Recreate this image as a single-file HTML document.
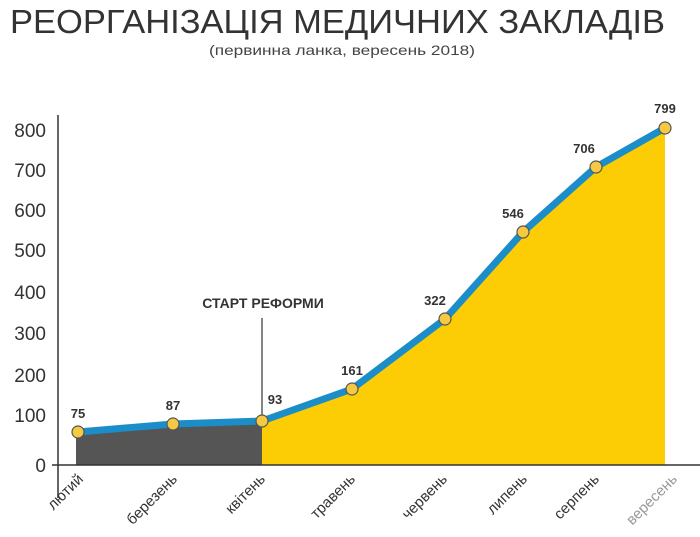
<!DOCTYPE html>
<html><head><meta charset="utf-8"><style>body{margin:0;background:#fff}svg{display:block}</style></head><body>
<svg width="700" height="537" viewBox="0 0 700 537" xmlns="http://www.w3.org/2000/svg" font-family="Liberation Sans, DejaVu Sans, sans-serif">
<text x="10" y="33" font-size="33" fill="#333" textLength="655" lengthAdjust="spacingAndGlyphs">РЕОРГАНІЗАЦІЯ МЕДИЧНИХ ЗАКЛАДІВ</text>
<text x="209" y="55" font-size="14" fill="#444" textLength="266" lengthAdjust="spacingAndGlyphs">(первинна ланка, вересень 2018)</text>
<g font-size="19" fill="#333" text-anchor="end">
<text x="46" y="137">800</text><text x="46" y="177">700</text><text x="46" y="217">600</text><text x="46" y="257">500</text><text x="46" y="299">400</text><text x="46" y="340">300</text><text x="46" y="382">200</text><text x="46" y="422">100</text><text x="46" y="472">0</text>
</g>
<polygon points="76,433 173,424 262,421 262,465 76,465" fill="#555"/>
<polygon points="262,421 352,389 445,319 523,232 596,167 665,128 665,465 262,465" fill="#fccd05"/>
<line x1="58" y1="115" x2="58" y2="498" stroke="#333" stroke-width="1.5"/>
<line x1="52" y1="465" x2="700" y2="465" stroke="#333" stroke-width="1.5"/>
<line x1="262" y1="318" x2="262" y2="421" stroke="#333" stroke-width="1.2"/>
<text x="263" y="308" text-anchor="middle" font-size="14" font-weight="bold" fill="#333">СТАРТ РЕФОРМИ</text>
<polyline points="78,432 173,424 262,421 352,389 445,319 523,232 596,167 665,128" fill="none" stroke="#1b8dc8" stroke-width="7" stroke-linejoin="round"/>
<g fill="#f6c945" stroke="#555" stroke-width="1.2">
<circle cx="78" cy="432" r="6"/><circle cx="173" cy="424" r="6"/><circle cx="262" cy="421" r="6"/><circle cx="352" cy="389" r="6"/><circle cx="445" cy="319" r="6"/><circle cx="523" cy="232" r="6"/><circle cx="596" cy="167" r="6"/><circle cx="665" cy="128" r="6"/>
</g>
<g font-size="13" font-weight="bold" fill="#333" text-anchor="middle">
<text x="78" y="418">75</text><text x="173" y="410">87</text><text x="275" y="404">93</text><text x="352" y="375">161</text><text x="435" y="305">322</text><text x="513" y="218">546</text><text x="584" y="153">706</text><text x="665" y="113">799</text>
</g>
<g font-size="15" fill="#333" text-anchor="end">
<text transform="translate(84,480) rotate(-45)">лютий</text>
<text transform="translate(178,480) rotate(-45)">березень</text>
<text transform="translate(266,480) rotate(-45)">квітень</text>
<text transform="translate(356,480) rotate(-45)">травень</text>
<text transform="translate(448,480) rotate(-45)">червень</text>
<text transform="translate(528,480) rotate(-45)">липень</text>
<text transform="translate(600,480) rotate(-45)">серпень</text>
<text transform="translate(678,480) rotate(-45)" fill="#999">вересень</text>
</g>
</svg>
</body></html>
